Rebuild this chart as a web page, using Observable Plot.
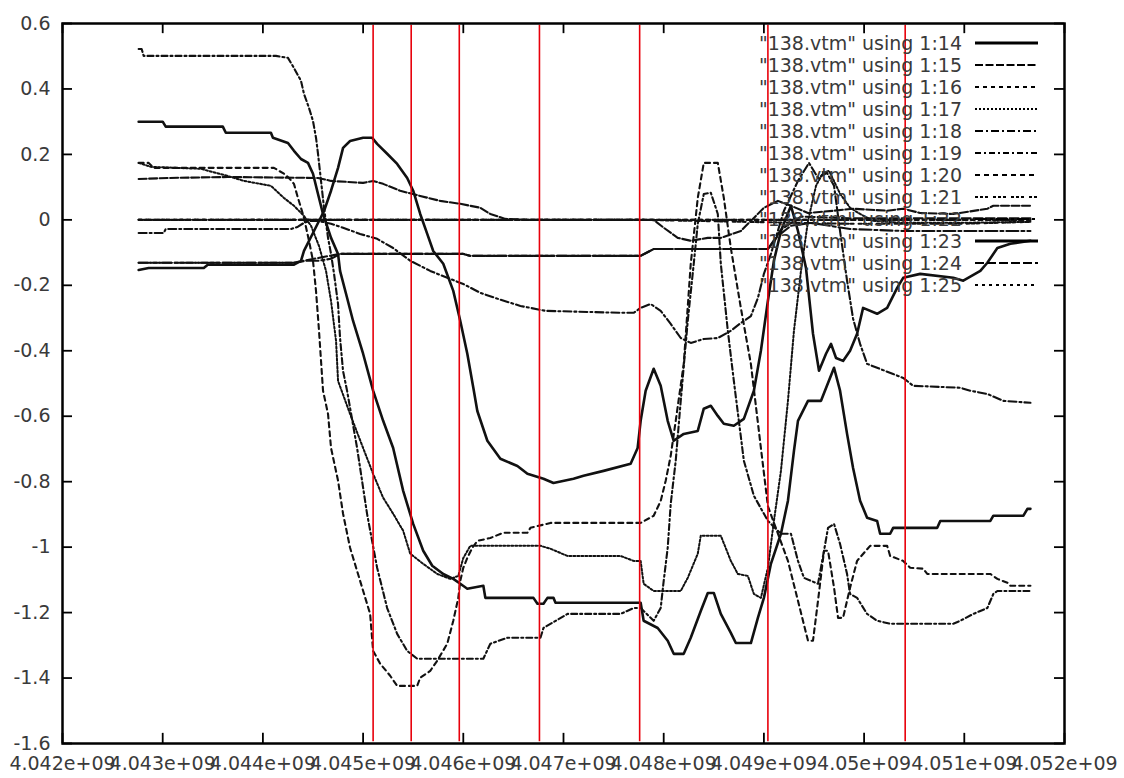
<!DOCTYPE html>
<html><head><meta charset="utf-8">
<script src="https://cdn.jsdelivr.net/npm/d3@7"></script>
<script src="https://cdn.jsdelivr.net/npm/@observablehq/plot@0.6"></script>
<style>body{margin:0;background:#fff;} svg{display:block;}</style>
</head><body><div id="chart"></div>
<script>
// x values in millions (x = value * 1e6), y values as plotted
const xTickValues = [4042,4043,4044,4045,4046,4047,4048,4049,4050,4051,4052];
const yTickValues = [0.6,0.4,0.2,0,-0.2,-0.4,-0.6,-0.8,-1,-1.2,-1.4,-1.6];
const redMarkers = [4045.10,4045.48,4045.96,4046.76,4047.76,4049.04,4050.41];

const s14 = [[4042.76,0.30],[4043.00,0.30],[4043.03,0.285],[4043.60,0.285],[4043.63,0.266],[4044.08,0.266],[4044.10,0.251],[4044.25,0.235],[4044.31,0.211],[4044.38,0.186],[4044.45,0.174],[4044.50,0.141],[4044.55,0.079],[4044.60,0.018],[4044.68,-0.055],[4044.75,-0.104],[4044.77,-0.156],[4044.84,-0.238],[4044.90,-0.309],[4045.00,-0.409],[4045.10,-0.522],[4045.20,-0.614],[4045.30,-0.697],[4045.40,-0.828],[4045.50,-0.929],[4045.60,-1.011],[4045.69,-1.057],[4045.80,-1.082],[4045.90,-1.097],[4045.97,-1.112],[4046.04,-1.127],[4046.20,-1.118],[4046.22,-1.155],[4046.70,-1.155],[4046.74,-1.173],[4046.80,-1.173],[4046.84,-1.155],[4046.90,-1.155],[4046.92,-1.170],[4047.77,-1.170],[4047.80,-1.225],[4047.94,-1.247],[4048.04,-1.286],[4048.10,-1.326],[4048.20,-1.326],[4048.27,-1.277],[4048.37,-1.195],[4048.44,-1.140],[4048.50,-1.140],[4048.57,-1.204],[4048.67,-1.262],[4048.72,-1.293],[4048.87,-1.293],[4048.94,-1.216],[4049.00,-1.155],[4049.07,-1.051],[4049.17,-0.959],[4049.24,-0.858],[4049.30,-0.706],[4049.34,-0.614],[4049.44,-0.553],[4049.57,-0.553],[4049.70,-0.452],[4049.76,-0.522],[4049.83,-0.654],[4049.89,-0.758],[4049.96,-0.858],[4050.03,-0.910],[4050.13,-0.920],[4050.16,-0.959],[4050.26,-0.959],[4050.29,-0.941],[4050.73,-0.941],[4050.76,-0.920],[4051.26,-0.920],[4051.29,-0.904],[4051.59,-0.904],[4051.63,-0.883],[4051.66,-0.883]];

const s15 = [[4042.76,0.125],[4043.05,0.128],[4043.65,0.131],[4044.55,0.128],[4044.68,0.119],[4045.00,0.113],[4045.10,0.119],[4045.20,0.110],[4045.37,0.089],[4045.57,0.073],[4045.77,0.058],[4045.97,0.049],[4046.17,0.037],[4046.27,0.018],[4046.42,0.003],[4046.67,0],[4047.90,0],[4048.00,-0.024],[4048.14,-0.055],[4048.27,-0.064],[4048.44,-0.055],[4048.57,-0.055],[4048.77,-0.034],[4048.90,0.006],[4049.00,0.037],[4049.14,0.058],[4049.27,0.043],[4049.44,0.021],[4049.70,0.028],[4049.89,0.034],[4050.23,0.028],[4050.39,0.034],[4050.56,0.021],[4050.89,0.018],[4051.23,0.034],[4051.29,0.043],[4051.66,0.043]];

const s16 = [[4042.76,0],[4051.66,0]];

const s17 = [[4042.76,0.174],[4042.88,0.162],[4043.38,0.156],[4043.65,0.134],[4043.81,0.119],[4044.08,0.104],[4044.21,0.067],[4044.31,0.043],[4044.41,0.012],[4044.48,-0.018],[4044.56,-0.080],[4044.63,-0.156],[4044.68,-0.248],[4044.73,-0.370],[4044.75,-0.492],[4044.87,-0.593],[4045.00,-0.697],[4045.10,-0.776],[4045.20,-0.849],[4045.30,-0.898],[4045.40,-0.950],[4045.47,-1.020],[4045.60,-1.051],[4045.74,-1.082],[4045.87,-1.097],[4045.95,-1.088],[4046.00,-1.033],[4046.07,-0.996],[4046.77,-0.996],[4046.87,-1.005],[4047.04,-1.027],[4047.57,-1.027],[4047.70,-1.042],[4047.77,-1.042],[4047.80,-1.112],[4047.90,-1.134],[4048.17,-1.134],[4048.24,-1.094],[4048.34,-1.020],[4048.37,-0.965],[4048.57,-0.965],[4048.67,-1.042],[4048.74,-1.082],[4048.84,-1.088],[4048.90,-1.143],[4048.97,-1.155],[4049.04,-1.063],[4049.10,-0.920],[4049.17,-0.767],[4049.24,-0.553],[4049.30,-0.339],[4049.37,-0.156],[4049.44,-0.003],[4049.52,0.104],[4049.59,0.144],[4049.65,0.150],[4049.76,0.080],[4049.86,0.037],[4049.96,0.018],[4050.09,-0.003],[4050.36,-0.009],[4050.96,-0.009],[4051.66,-0.006]];

const s18 = [[4042.76,-0.040],[4043.01,-0.040],[4043.03,-0.028],[4044.28,-0.028],[4044.35,-0.021],[4044.41,-0.009],[4044.48,-0.003],[4044.55,-0.003],[4044.68,-0.012],[4044.80,-0.024],[4044.97,-0.043],[4045.14,-0.058],[4045.30,-0.086],[4045.47,-0.125],[4045.67,-0.156],[4045.84,-0.177],[4046.00,-0.196],[4046.17,-0.223],[4046.37,-0.244],[4046.57,-0.263],[4046.82,-0.278],[4047.57,-0.284],[4047.70,-0.284],[4047.77,-0.269],[4047.87,-0.257],[4047.97,-0.278],[4048.07,-0.318],[4048.17,-0.361],[4048.27,-0.376],[4048.40,-0.364],[4048.54,-0.361],[4048.67,-0.339],[4048.77,-0.315],[4048.87,-0.294],[4048.94,-0.239],[4049.00,-0.165],[4049.07,-0.104],[4049.20,0.028],[4049.34,0.119],[4049.45,0.174],[4049.54,0.128],[4049.63,0.144],[4049.70,0.104],[4049.76,-0.034],[4049.83,-0.186],[4049.89,-0.302],[4049.96,-0.379],[4050.03,-0.440],[4050.13,-0.452],[4050.29,-0.471],[4050.39,-0.483],[4050.49,-0.507],[4050.96,-0.513],[4051.06,-0.522],[4051.23,-0.532],[4051.39,-0.553],[4051.66,-0.559]];

const s19 = [[4042.76,0.522],[4042.79,0.522],[4042.81,0.501],[4044.13,0.501],[4044.25,0.495],[4044.31,0.464],[4044.38,0.425],[4044.41,0.385],[4044.46,0.342],[4044.50,0.302],[4044.53,0.251],[4044.55,0.202],[4044.58,0.119],[4044.61,0.037],[4044.65,-0.055],[4044.68,-0.104],[4044.71,-0.165],[4044.75,-0.257],[4044.77,-0.361],[4044.80,-0.462],[4044.84,-0.522],[4044.94,-0.697],[4045.04,-0.899],[4045.14,-1.063],[4045.24,-1.186],[4045.34,-1.265],[4045.44,-1.317],[4045.54,-1.341],[4046.20,-1.341],[4046.27,-1.295],[4046.44,-1.277],[4046.77,-1.277],[4046.80,-1.247],[4047.04,-1.204],[4047.57,-1.204],[4047.70,-1.186],[4047.77,-1.186],[4047.90,-1.225],[4047.97,-1.186],[4048.00,-1.103],[4048.04,-1.002],[4048.07,-0.868],[4048.12,-0.736],[4048.17,-0.553],[4048.24,-0.309],[4048.30,-0.134],[4048.34,-0.012],[4048.40,0.079],[4048.47,0.083],[4048.54,0.018],[4048.57,-0.134],[4048.64,-0.339],[4048.70,-0.492],[4048.80,-0.736],[4048.90,-0.843],[4049.04,-0.920],[4049.17,-0.959],[4049.27,-0.959],[4049.34,-1.042],[4049.40,-1.094],[4049.54,-1.112],[4049.60,-1.011],[4049.64,-0.941],[4049.70,-0.929],[4049.76,-0.990],[4049.83,-1.082],[4049.86,-1.143],[4049.93,-1.155],[4050.03,-1.204],[4050.13,-1.225],[4050.26,-1.234],[4050.89,-1.234],[4050.96,-1.225],[4051.09,-1.204],[4051.23,-1.186],[4051.29,-1.143],[4051.33,-1.134],[4051.66,-1.134]];

const s20 = [[4042.76,0.174],[4042.86,0.174],[4042.91,0.159],[4044.11,0.159],[4044.16,0.150],[4044.21,0.141],[4044.26,0.128],[4044.31,0.110],[4044.35,0.067],[4044.38,0.037],[4044.41,0.006],[4044.46,-0.064],[4044.50,-0.125],[4044.53,-0.217],[4044.56,-0.339],[4044.60,-0.522],[4044.65,-0.593],[4044.68,-0.697],[4044.75,-0.797],[4044.80,-0.898],[4044.87,-1.002],[4044.97,-1.103],[4045.07,-1.204],[4045.10,-1.317],[4045.17,-1.356],[4045.27,-1.393],[4045.34,-1.424],[4045.54,-1.424],[4045.57,-1.399],[4045.67,-1.378],[4045.74,-1.347],[4045.84,-1.295],[4045.90,-1.225],[4045.95,-1.155],[4045.97,-1.103],[4046.00,-1.063],[4046.04,-1.033],[4046.09,-1.002],[4046.14,-0.981],[4046.27,-0.972],[4046.40,-0.956],[4046.64,-0.956],[4046.67,-0.941],[4046.87,-0.926],[4047.77,-0.926],[4047.90,-0.904],[4047.97,-0.859],[4048.02,-0.797],[4048.07,-0.721],[4048.12,-0.614],[4048.20,-0.440],[4048.27,-0.134],[4048.34,0.067],[4048.40,0.174],[4048.54,0.174],[4048.60,0.067],[4048.67,-0.086],[4048.77,-0.269],[4048.87,-0.440],[4048.97,-0.697],[4049.04,-0.875],[4049.14,-0.959],[4049.24,-1.042],[4049.34,-1.164],[4049.44,-1.286],[4049.49,-1.286],[4049.54,-1.164],[4049.60,-1.011],[4049.64,-1.011],[4049.70,-1.124],[4049.74,-1.216],[4049.79,-1.216],[4049.86,-1.124],[4049.93,-1.042],[4050.06,-0.996],[4050.23,-0.996],[4050.26,-1.027],[4050.39,-1.042],[4050.46,-1.063],[4050.59,-1.066],[4050.63,-1.082],[4051.26,-1.082],[4051.33,-1.097],[4051.43,-1.109],[4051.46,-1.118],[4051.66,-1.118]];

const s21 = [[4042.76,0],[4047.77,0],[4049.86,-0.012],[4050.96,-0.012],[4051.66,-0.006]];

const s22 = [[4042.76,-0.131],[4044.33,-0.131],[4044.43,-0.125],[4044.55,-0.125],[4044.68,-0.119],[4044.77,-0.104],[4046.00,-0.104],[4046.07,-0.110],[4047.77,-0.110],[4047.90,-0.089],[4049.04,-0.089],[4049.14,-0.049],[4049.27,-0.018],[4049.47,-0.009],[4049.86,-0.028],[4050.39,-0.034],[4051.66,-0.034]];

const s23 = [[4042.76,-0.153],[4042.86,-0.147],[4043.41,-0.147],[4043.45,-0.137],[4044.31,-0.137],[4044.38,-0.125],[4044.41,-0.095],[4044.51,-0.034],[4044.61,0.027],[4044.68,0.089],[4044.75,0.159],[4044.80,0.220],[4044.87,0.241],[4045.00,0.251],[4045.09,0.251],[4045.14,0.232],[4045.24,0.202],[4045.34,0.171],[4045.44,0.128],[4045.50,0.089],[4045.57,0.018],[4045.64,-0.043],[4045.70,-0.095],[4045.80,-0.134],[4045.90,-0.217],[4045.97,-0.309],[4046.04,-0.409],[4046.10,-0.513],[4046.14,-0.584],[4046.24,-0.675],[4046.37,-0.730],[4046.54,-0.752],[4046.64,-0.776],[4046.80,-0.791],[4046.90,-0.804],[4047.10,-0.791],[4047.20,-0.782],[4047.40,-0.767],[4047.67,-0.745],[4047.74,-0.697],[4047.77,-0.614],[4047.82,-0.522],[4047.90,-0.455],[4047.97,-0.507],[4048.04,-0.614],[4048.10,-0.675],[4048.20,-0.654],[4048.34,-0.645],[4048.40,-0.577],[4048.47,-0.568],[4048.54,-0.599],[4048.60,-0.623],[4048.70,-0.629],[4048.80,-0.608],[4048.90,-0.522],[4048.97,-0.400],[4049.04,-0.247],[4049.10,-0.125],[4049.17,-0.034],[4049.27,0.043],[4049.34,-0.034],[4049.42,-0.147],[4049.49,-0.348],[4049.55,-0.461],[4049.62,-0.409],[4049.67,-0.379],[4049.72,-0.422],[4049.79,-0.431],[4049.86,-0.400],[4049.93,-0.348],[4049.99,-0.269],[4050.13,-0.287],[4050.23,-0.269],[4050.33,-0.208],[4050.39,-0.177],[4050.56,-0.165],[4050.89,-0.177],[4050.99,-0.186],[4051.16,-0.156],[4051.23,-0.131],[4051.33,-0.086],[4051.46,-0.073],[4051.66,-0.064]];

const s24 = [[4042.76,-0.131],[4044.30,-0.131],[4044.77,-0.104],[4046.00,-0.104],[4046.07,-0.110],[4047.77,-0.110],[4047.90,-0.089],[4049.04,-0.089],[4049.17,-0.030],[4049.37,0.010],[4049.86,0.005],[4051.66,0.005]];

const s25 = [[4042.76,0],[4051.66,0]];

const seriesNames = ['"138.vtm" using 1:14','"138.vtm" using 1:15','"138.vtm" using 1:16','"138.vtm" using 1:17','"138.vtm" using 1:18','"138.vtm" using 1:19','"138.vtm" using 1:20','"138.vtm" using 1:21','"138.vtm" using 1:22','"138.vtm" using 1:23','"138.vtm" using 1:24','"138.vtm" using 1:25'];
const seriesData = [s14,s15,s16,s17,s18,s19,s20,s21,s22,s23,s24,s25];

// styles (gnuplot-like line types)
const dashes = [null,"8,2.5","4,4","2,2","8,3,2,3","6,3,2,3","5,4","3,2,3,2,3,5","12,3,3,3",null,"9,3","3,4"];
const widths = [2.6,2.1,2.1,2,2.1,2.1,2.1,2.1,2.1,2.6,2.1,2.1];

const series = seriesNames.map((name, i) => ({
  name,
  rows: seriesData[i].map(([xm, y]) => ({x: xm * 1e6, y})),
  dash: dashes[i],
  width: widths[i]
}));

const X0 = xTickValues[0] * 1e6, X1 = xTickValues[xTickValues.length - 1] * 1e6;
const Y0 = -1.6, Y1 = 0.6;
const tickX = 0.1e6, tickY = 0.031;
const xt = xTickValues.map(d => d * 1e6);

const fmtX = d => String(+(d / 1e9).toFixed(3)) + "e+09";
const fmtY = d => String(+d.toFixed(1));

const marks = [
  Plot.ruleX(xt, {x: d => d, y1: Y0, y2: Y0 + tickY, stroke: "black", strokeWidth: 1.8}),
  Plot.ruleX(xt, {x: d => d, y1: Y1 - tickY, y2: Y1, stroke: "black", strokeWidth: 1.8}),
  Plot.ruleY(yTickValues, {y: d => d, x1: X0, x2: X0 + tickX, stroke: "black", strokeWidth: 1.8}),
  Plot.ruleY(yTickValues, {y: d => d, x1: X1 - tickX, x2: X1, stroke: "black", strokeWidth: 1.8}),
  ...series.map(s => Plot.line(s.rows, {x: "x", y: "y", stroke: "#111", strokeWidth: s.width, strokeDasharray: s.dash || undefined})),
  Plot.ruleX(redMarkers.map(d => d * 1e6), {x: d => d, y1: Y0 + 0.005, y2: Y1 - 0.005, stroke: "#e8000b", strokeWidth: 1.6}),
  Plot.frame({stroke: "black", strokeWidth: 2.5}),
  Plot.axisX({ticks: xt, tickSize: 0, tickPadding: 13, tickFormat: fmtX, label: null}),
  Plot.axisY({ticks: yTickValues, tickSize: 0, tickPadding: 12, tickFormat: fmtY, label: null})
];

const svg = Plot.plot({
  width: 1124,
  height: 778,
  marginLeft: 62,
  marginRight: 60,
  marginTop: 23,
  marginBottom: 35,
  x: {domain: [X0, X1]},
  y: {domain: [Y0, Y1]},
  style: {fontFamily: "'DejaVu Sans', sans-serif", fontSize: "19px", color: "#3a3a3a", background: "#fff"},
  marks
});

// in-plot legend (gnuplot style, top right)
const lg = d3.select(svg).append("g").attr("class", "legend");
series.forEach((s, i) => {
  const yy = 43 + 22 * i;
  lg.append("text")
    .attr("x", 962).attr("y", yy).attr("dy", "0.36em")
    .attr("text-anchor", "end")
    .attr("fill", "#3a3a3a")
    .style("font", "19px 'DejaVu Sans', sans-serif")
    .text(s.name);
  lg.append("line")
    .attr("x1", 975).attr("x2", 1038).attr("y1", yy).attr("y2", yy)
    .attr("stroke", "black")
    .attr("stroke-width", s.dash ? 2.2 : 3.2)
    .attr("stroke-dasharray", s.dash);
});

document.getElementById("chart").appendChild(svg);
</script></body></html>
